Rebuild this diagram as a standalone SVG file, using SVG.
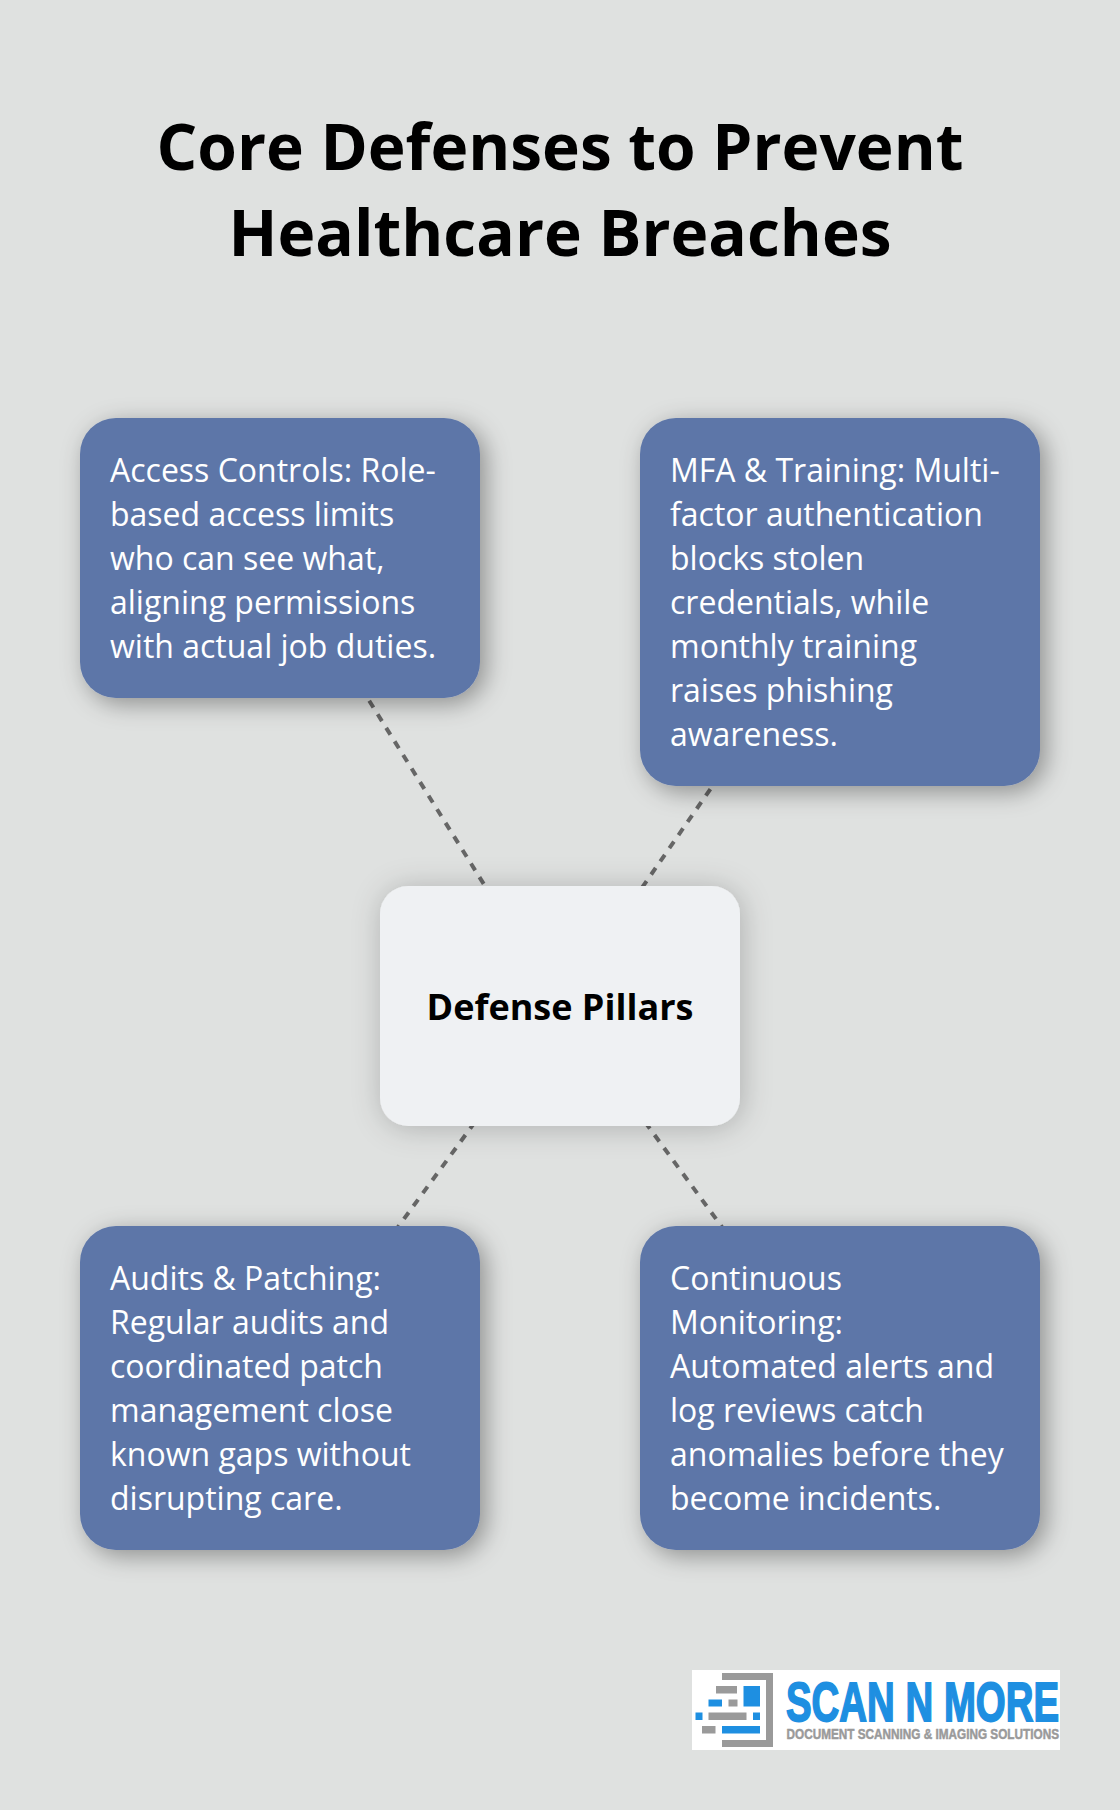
<svg xmlns="http://www.w3.org/2000/svg" width="1120" height="1810" viewBox="0 0 1120 1810">
<style>
.t{font-family:"Open Sans","DejaVu Sans",sans-serif;}
.title{font-size:64px;font-weight:700;fill:#000;text-anchor:middle;}
.body{font-size:32px;fill:#fff;}
.center{font-size:36px;font-weight:700;fill:#000;text-anchor:middle;}
.card{fill:#5d76a8;filter:url(#sh);}
.hub{fill:#eff1f3;filter:url(#sh2);}
.conn{stroke:#666;stroke-width:4;stroke-dasharray:8 8;fill:none;}
.lb{fill:#1e8fe1;}
.lg{fill:#9a9a9a;}
.lt{font-family:"Liberation Sans",Arial,sans-serif;font-weight:700;}
.lts{stroke-width:1.8;stroke:#1e8fe1;}
.ltg{stroke-width:.5;stroke:#9a9a9a;}
</style>
<defs>
<filter id="sh" x="-20%" y="-20%" width="150%" height="150%"><feDropShadow dx="6" dy="6" stdDeviation="12" flood-color="#000" flood-opacity="0.36"/></filter>
<filter id="sh2" x="-25%" y="-30%" width="150%" height="160%"><feDropShadow dx="2" dy="2" stdDeviation="15" flood-color="#000" flood-opacity="0.22"/></filter>
</defs>
<rect width="1120" height="1810" fill="#dfe1e0"/>
<g id="title" class="t">
<text class="title" x="560" y="170">Core Defenses to Prevent</text>
<text class="title" x="560" y="256">Healthcare Breaches</text>
</g>
<g id="connectors">
<line class="conn" x1="560" y1="1006" x2="280" y2="558"/>
<line class="conn" x1="560" y1="1006" x2="840" y2="602"/>
<line class="conn" x1="560" y1="1006" x2="280" y2="1388"/>
<line class="conn" x1="560" y1="1006" x2="840" y2="1388"/>
</g>
<g id="node-access" class="t">
<rect class="card" x="80" y="418" width="400" height="280" rx="36"/>
<text class="body" x="110" y="482">Access Controls: Role-</text>
<text class="body" x="110" y="526">based access limits</text>
<text class="body" x="110" y="570">who can see what,</text>
<text class="body" x="110" y="614">aligning permissions</text>
<text class="body" x="110" y="658">with actual job duties.</text>
</g>
<g id="node-mfa" class="t">
<rect class="card" x="640" y="418" width="400" height="368" rx="36"/>
<text class="body" x="670" y="482">MFA &amp; Training: Multi-</text>
<text class="body" x="670" y="526">factor authentication</text>
<text class="body" x="670" y="570">blocks stolen</text>
<text class="body" x="670" y="614">credentials, while</text>
<text class="body" x="670" y="658">monthly training</text>
<text class="body" x="670" y="702">raises phishing</text>
<text class="body" x="670" y="746">awareness.</text>
</g>
<g id="node-hub" class="t">
<rect class="hub" x="380" y="886" width="360" height="240" rx="28"/>
<text class="center" x="560" y="1020">Defense Pillars</text>
</g>
<g id="node-audits" class="t">
<rect class="card" x="80" y="1226" width="400" height="324" rx="36"/>
<text class="body" x="110" y="1290">Audits &amp; Patching:</text>
<text class="body" x="110" y="1334">Regular audits and</text>
<text class="body" x="110" y="1378">coordinated patch</text>
<text class="body" x="110" y="1422">management close</text>
<text class="body" x="110" y="1466">known gaps without</text>
<text class="body" x="110" y="1510">disrupting care.</text>
</g>
<g id="node-monitoring" class="t">
<rect class="card" x="640" y="1226" width="400" height="324" rx="36"/>
<text class="body" x="670" y="1290">Continuous</text>
<text class="body" x="670" y="1334">Monitoring:</text>
<text class="body" x="670" y="1378">Automated alerts and</text>
<text class="body" x="670" y="1422">log reviews catch</text>
<text class="body" x="670" y="1466">anomalies before they</text>
<text class="body" x="670" y="1510">become incidents.</text>
</g>
<g id="logo">
<rect x="692" y="1670" width="368" height="80" fill="#fff"/>
<path class="lg" d="M722 1673H773V1747H722V1740H766V1680H722Z"/>
<rect class="lg" x="716" y="1686" width="21" height="7.500"/>
<rect class="lb" x="743.500" y="1686" width="16.500" height="20.500"/>
<rect class="lb" x="708.500" y="1699.500" width="13.500" height="7"/>
<rect class="lg" x="728.500" y="1699.500" width="9" height="7"/>
<rect class="lb" x="695.500" y="1712.500" width="7" height="7.500"/>
<rect class="lg" x="708.500" y="1712.500" width="38" height="7.500"/>
<rect class="lb" x="753" y="1712.500" width="7" height="7.500"/>
<rect class="lg" x="702" y="1726" width="13.500" height="7.500"/>
<rect class="lb" x="722" y="1726" width="38" height="7.500"/>
<text class="lt lb lts" transform="translate(786 1721) scale(.686 1)" font-size="56">SCAN N MORE</text>
<text class="lt lg ltg" transform="translate(786.500 1738.500) scale(.785 1)" font-size="15">DOCUMENT SCANNING &amp; IMAGING SOLUTIONS</text>
</g>
</svg>
